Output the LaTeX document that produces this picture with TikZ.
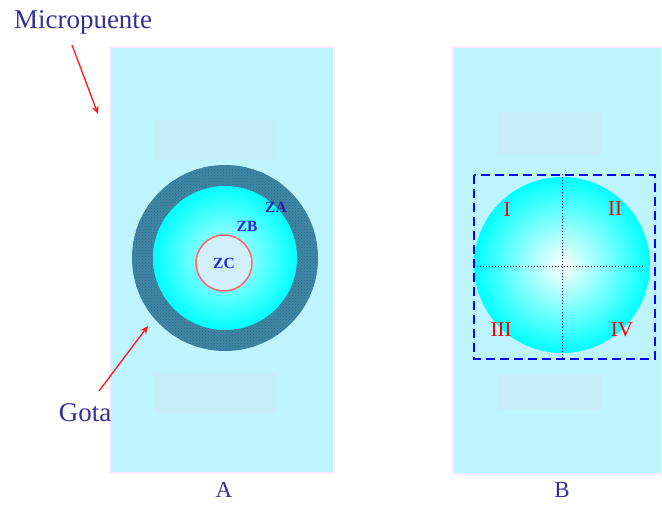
\documentclass[tikz,border=0pt]{standalone}
\usepackage{fontspec}
\setmainfont{Liberation Serif}
\usetikzlibrary{arrows.meta,patterns}
\definecolor{chip}{RGB}{190,244,253}
\definecolor{pad}{RGB}{198,238,248}
\definecolor{edgepink}{RGB}{252,235,250}
\definecolor{navy}{RGB}{50,50,150}
\definecolor{ring}{RGB}{62,135,165}
\definecolor{ringdot}{RGB}{55,100,140}
\definecolor{zlab}{RGB}{40,40,220}
\tikzset{
  chipbox/.style={fill=chip,draw=edgepink,line width=1.5pt},
  padbox/.style={fill=pad,draw=none},
  callout/.style={draw=red!90!white,line width=1.3pt,-{Stealth[length=8pt,width=7pt,open]}},
  bigtext/.style={text=navy,font=\fontsize{27}{30}\selectfont},
  ztext/.style={text=zlab,font=\bfseries\fontsize{15.5}{17}\selectfont},
  quad/.style={text=red,font=\fontsize{21}{23}\selectfont},
  paneltext/.style={text=navy,font=\fontsize{23}{25}\selectfont,inner sep=0pt},
}
\begin{document}
\begin{tikzpicture}[x=1pt,y=-1pt]
\useasboundingbox (0,0) rectangle (662,504);
% chips
\draw[chipbox] (110,47) rectangle (334,473);
\draw[chipbox] (453,47) rectangle (662,474);
\fill[padbox] (155,120) rectangle (276,160);
\fill[padbox] (155,373) rectangle (276,413);
\fill[padbox] (497,112) rectangle (603,155);
\fill[padbox] (497,375) rectangle (603,410);
% drop A
\fill[ring] (225,258) circle (93);
\fill[pattern=crosshatch dots,pattern color=ringdot] (225,258) circle (93);
\shade[inner color=white!80!cyan,outer color=cyan] (225,258) circle (72);
\draw[red!60,line width=1.5pt,fill=white!82!cyan] (224,263) circle (28);
\node[ztext,text=zlab!80!black] (za) at (276,207) {ZA};
\node[ztext] (zb) at (247,226) {ZB};
\node[ztext] (zc) at (224,263) {ZC};
% drop B
\shade[inner color=white,outer color=cyan] (562,265) circle (88);
\draw[blue,dotted,line width=1pt] (562,174) -- (562,358);
\draw[black,dotted,line width=1pt] (477,266) -- (643,266);
\draw[blue,line width=1.5pt,dash pattern=on 9pt off 5pt] (474,175) rectangle (655,359);
\node[quad] (q1) at (507,210) {I};
\node[quad] (q2) at (615,209) {II};
\node[quad] (q3) at (501,330) {III};
\node[quad] (q4) at (622,330) {IV};
% labels
\node[bigtext] (mp) at (83,22) {Micropuente};
\coordinate (mpend) at (98,114);
\draw[callout] (72,45) -- (mpend);
\node[bigtext] (gota) at (85,413) {Gota};
\coordinate (gotaend) at (148,326);
\draw[callout] (99,391) -- (gotaend);
\node[paneltext,anchor=base] (la) at (224,497) {A};
\node[paneltext,anchor=base] (lb) at (562,497) {B};
\end{tikzpicture}
\end{document}
